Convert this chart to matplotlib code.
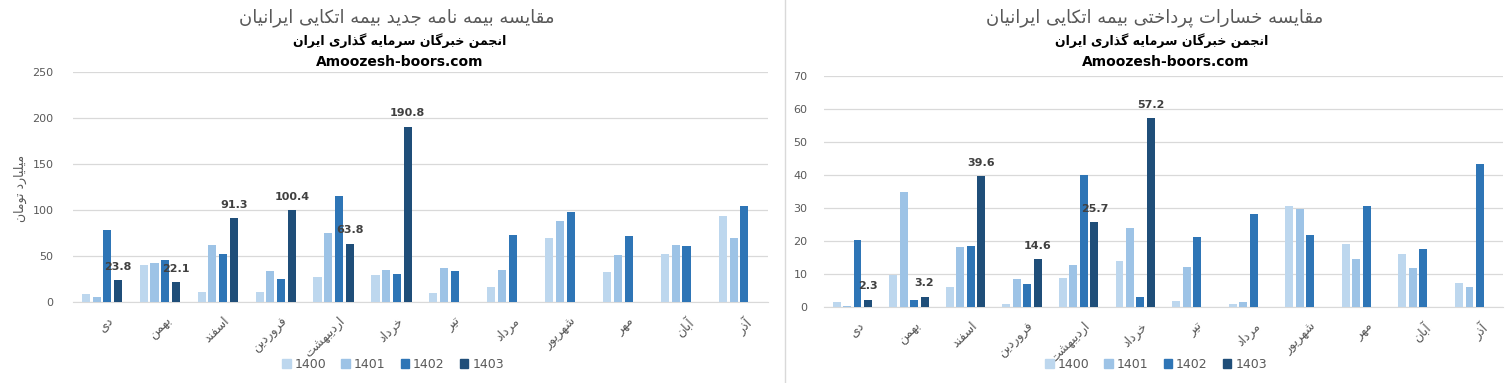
import numpy as np
import matplotlib
matplotlib.use("Agg")
import matplotlib.pyplot as plt
import matplotlib.transforms as mtransforms
from matplotlib.patches import Patch

months = ["دی", "بهمن", "اسفند", "فروردین", "اردیبهشت", "خرداد",
          "تیر", "مرداد", "شهریور", "مهر", "آبان", "آذر"]
years = ["1400", "1401", "1402", "1403"]

# left chart: new reinsurance policies (billion toman)
prem_1400 = [9.0, 40.6, 11.2, 11.2, 27.5, 29.7, 10.1, 16.7, 69.9, 33.0, 52.5, 93.8]
prem_1401 = [5.8, 42.8, 62.3, 34.0, 75.4, 35.1, 37.3, 35.1, 88.4, 51.4, 62.3, 69.9]
prem_1402 = [78.6, 46.0, 52.5, 25.4, 115.6, 30.8, 34.0, 73.2, 98.2, 72.1, 61.2, 104.7]
prem_1403 = [23.8, 22.1, 91.3, 100.4, 63.8, 190.8]

# right chart: paid claims
loss_1400 = [1.6, 9.8, 6.2, 1.0, 8.9, 14.0, 1.9, 1.0, 30.7, 19.2, 16.1, 7.4]
loss_1401 = [0.4, 34.9, 18.3, 8.6, 12.8, 24.0, 12.2, 1.6, 29.8, 14.6, 11.9, 6.2]
loss_1402 = [20.4, 2.2, 18.6, 7.1, 40.0, 3.1, 21.3, 28.2, 21.9, 30.7, 17.7, 43.4]
loss_1403 = [2.3, 3.2, 39.6, 14.6, 25.7, 57.2]

colors = ["#BDD7EE", "#9DC3E6", "#2E75B6", "#1F4E79"]
GRAY = "#595959"
GRID = "#D9D9D9"

# --- minimal Persian shaping (matplotlib has no bidi/shaping) ---
DUAL = {
    "ب": (0xFE8F, 0xFE90, 0xFE91, 0xFE92), "پ": (0xFB56, 0xFB57, 0xFB58, 0xFB59),
    "ت": (0xFE95, 0xFE96, 0xFE97, 0xFE98), "ج": (0xFE9D, 0xFE9E, 0xFE9F, 0xFEA0),
    "خ": (0xFEA5, 0xFEA6, 0xFEA7, 0xFEA8), "س": (0xFEB1, 0xFEB2, 0xFEB3, 0xFEB4),
    "ش": (0xFEB5, 0xFEB6, 0xFEB7, 0xFEB8), "ف": (0xFED1, 0xFED2, 0xFED3, 0xFED4),
    "ق": (0xFED5, 0xFED6, 0xFED7, 0xFED8), "ک": (0xFB8E, 0xFB8F, 0xFB90, 0xFB91),
    "گ": (0xFB92, 0xFB93, 0xFB94, 0xFB95), "ل": (0xFEDD, 0xFEDE, 0xFEDF, 0xFEE0),
    "م": (0xFEE1, 0xFEE2, 0xFEE3, 0xFEE4), "ن": (0xFEE5, 0xFEE6, 0xFEE7, 0xFEE8),
    "ه": (0xFEE9, 0xFEEA, 0xFEEB, 0xFEEC), "ی": (0xFBFC, 0xFBFD, 0xFBFE, 0xFBFF),
}
RIGHT = {
    "ا": (0xFE8D, 0xFE8E), "آ": (0xFE81, 0xFE82), "د": (0xFEA9, 0xFEAA),
    "ذ": (0xFEAB, 0xFEAC), "ر": (0xFEAD, 0xFEAE), "ز": (0xFEAF, 0xFEB0),
    "و": (0xFEED, 0xFEEE),
}


def fa(s):
    out = []
    for i, c in enumerate(s):
        prev = s[i - 1] if i > 0 else ""
        nxt = s[i + 1] if i + 1 < len(s) else ""
        pj = prev in DUAL
        if c in DUAL:
            nj = nxt in DUAL or nxt in RIGHT
            f = DUAL[c]
            k = 3 if (pj and nj) else 1 if pj else 2 if nj else 0
            out.append(chr(f[k]))
        elif c in RIGHT:
            out.append(chr(RIGHT[c][1 if pj else 0]))
        else:
            out.append(c)
    return "".join(reversed(out))


W, H = 1512, 383
fig = plt.figure(figsize=(W / 100, H / 100), dpi=100)
plt.rcParams["font.family"] = ["DejaVu Sans"]


def px(x0, y0, x1, y1):
    return [x0 / W, 1 - y1 / H, (x1 - x0) / W, (y1 - y0) / H]


def draw(ax, series, ymax, ystep, ypad):
    x = np.arange(len(months))
    pitch, bw = 0.185, 0.14
    for k, vals in enumerate(series):
        xs = x[:len(vals)] + (k - 1.5) * pitch
        ax.bar(xs, vals, width=bw, color=colors[k], zorder=3)
        if k == 3:
            for xi, v in zip(xs, vals):
                ax.annotate(f"{v:.1f}", (xi, v), xytext=(0, 6), textcoords="offset points",
                            ha="center", va="bottom", fontsize=8, fontweight="bold",
                            color="#404040", zorder=4)
    ax.set_xlim(-0.5, len(months) - 0.5)
    ax.set_ylim(0, ymax)
    ax.set_yticks(np.arange(0, ymax + 1, ystep))
    ax.yaxis.grid(True, color=GRID, lw=0.9, zorder=0)
    for s in ["top", "right", "left"]:
        ax.spines[s].set_visible(False)
    ax.spines["bottom"].set_color(GRID)
    ax.tick_params(axis="y", length=0, pad=ypad, labelsize=8, labelcolor=GRAY)
    ax.tick_params(axis="x", length=0, pad=9, labelsize=9, labelcolor=GRAY)
    ax.set_xticks(x)
    ax.set_xticklabels([fa(m) for m in months], rotation=45, ha="right", va="top",
                       rotation_mode="anchor")
    shift = mtransforms.ScaledTranslation(5 / 100, 0, fig.dpi_scale_trans)
    for lab in ax.get_xticklabels():
        lab.set_transform(lab.get_transform() + shift)


ax1 = fig.add_axes(px(73, 72.3, 768, 302.3))
draw(ax1, [prem_1400, prem_1401, prem_1402, prem_1403], 250, 50, 14)
ax2 = fig.add_axes(px(824, 76, 1503, 307.3))
draw(ax2, [loss_1400, loss_1401, loss_1402, loss_1403], 70, 10, 12)

# separator between the two charts
fig.add_artist(plt.Line2D([785 / W, 785 / W], [0, 1], color=GRID, lw=1))

titles = [(397, "مقایسه بیمه نامه جدید بیمه اتکایی ایرانیان"),
          (1155, "مقایسه خسارات پرداختی بیمه اتکایی ایرانیان")]
for cx, t in titles:
    fig.text(cx / W, 1 - 18 / H, fa(t), ha="center", va="center", fontsize=13, color=GRAY)
for cx in (400, 1162):
    fig.text(cx / W, 1 - 41 / H, fa("انجمن خبرگان سرمایه گذاری ایران"), ha="center",
             va="center", fontsize=9, fontweight="bold", color="black")
for cx in (400, 1166):
    fig.text(cx / W, 1 - 62 / H, "Amoozesh-boors.com", ha="center", va="center",
             fontsize=10, fontweight="bold", color="black")

fig.text(20 / W, 1 - 188 / H, fa("میلیارد تومان"), rotation=90, ha="center", va="center",
         fontsize=9, color=GRAY)

handles = [Patch(color=c, label=y) for c, y in zip(colors, years)]
for cx in (393, 1156):
    fig.legend(handles=handles, loc="center", bbox_to_anchor=(cx / W, 1 - 364 / H),
               ncol=4, frameon=False, fontsize=9, labelcolor=GRAY, handlelength=0.7,
               handleheight=0.7, handletextpad=0.3, columnspacing=1.2)

fig.savefig("out.png", dpi=100)
